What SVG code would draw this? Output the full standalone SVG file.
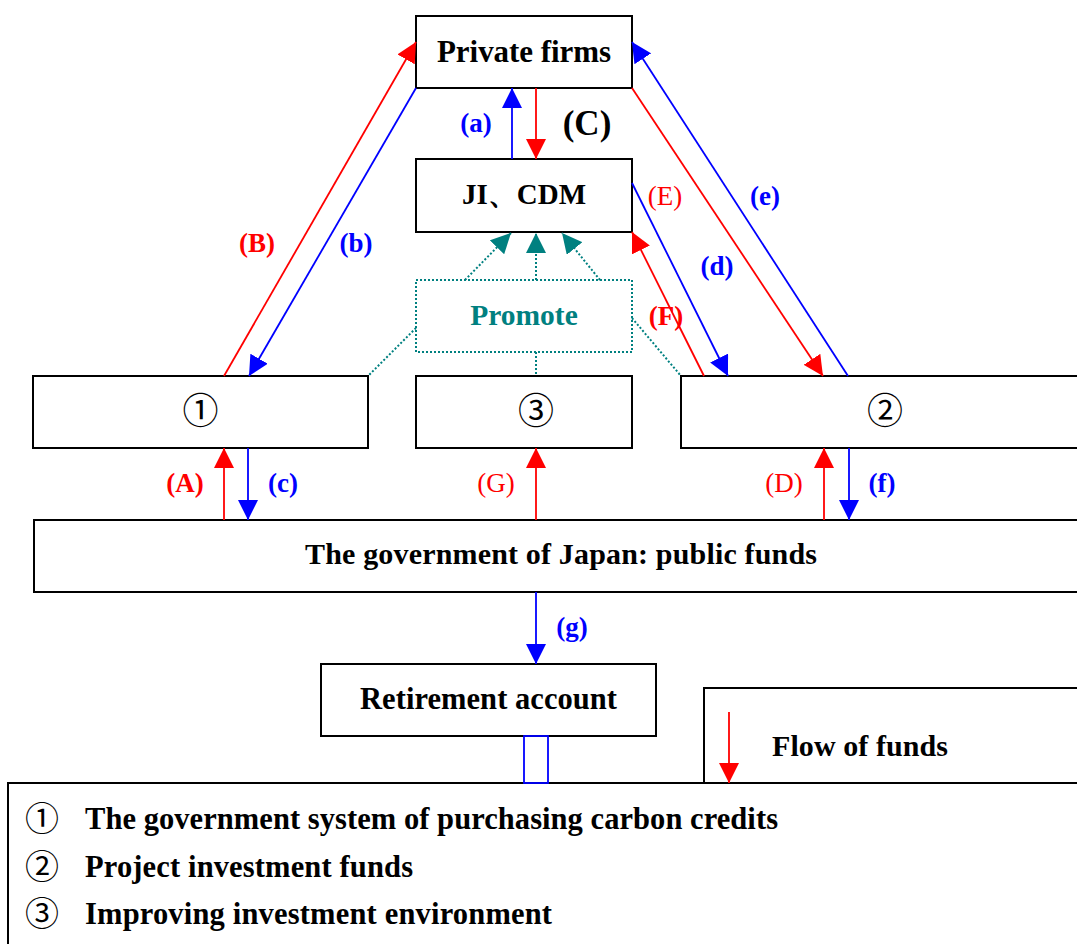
<svg xmlns="http://www.w3.org/2000/svg" width="1077" height="944" viewBox="0 0 1077 944">
<defs>
<style>
.box{fill:#fff;stroke:#000;stroke-width:2}
.t{font-family:"Liberation Serif","Times New Roman",serif;font-weight:bold;fill:#000}
.cd{font-family:"Noto Sans CJK JP","DejaVu Sans",sans-serif;fill:#000;font-weight:normal}
.lb{font-family:"Liberation Serif","Times New Roman",serif;font-size:27px;font-weight:bold}
.ln{font-family:"Liberation Serif","Times New Roman",serif;font-size:27px;font-weight:normal}
.red{stroke:#f00;stroke-width:1.8;fill:none}
.blue{stroke:#00f;stroke-width:1.8;fill:none}
.teal{stroke:#008080;stroke-width:2;stroke-dasharray:2 2;fill:none}
</style>
<marker id="ar" markerUnits="userSpaceOnUse" markerWidth="20" markerHeight="20" refX="20" refY="10" orient="auto" viewBox="0 0 20 20"><path d="M0,0 L20,10 L0,20 z" fill="#f00"/></marker>
<marker id="ab" markerUnits="userSpaceOnUse" markerWidth="20" markerHeight="20" refX="20" refY="10" orient="auto" viewBox="0 0 20 20"><path d="M0,0 L20,10 L0,20 z" fill="#00f"/></marker>
<marker id="at" markerUnits="userSpaceOnUse" markerWidth="20" markerHeight="20" refX="20" refY="10" orient="auto" viewBox="0 0 20 20"><path d="M0,0 L20,10 L0,20 z" fill="#008080"/></marker>
</defs>
<rect width="1077" height="944" fill="#fff"/>

<g id="private-firms">
<rect class="box" x="416" y="16" width="216" height="72"/>
<text class="t" x="524" y="62" font-size="31" text-anchor="middle" textLength="174">Private firms</text>
</g>
<g id="ji-cdm">
<rect class="box" x="416" y="159" width="216" height="73"/>
<text class="t" x="524" y="204" font-size="29" text-anchor="middle" font-family="'Liberation Serif','Noto Sans CJK JP',serif">JI、CDM</text>
</g>
<g id="promote">
<rect x="416" y="280" width="216" height="72" fill="none" stroke="#008080" stroke-width="2" stroke-dasharray="2 2"/>
<text class="t" x="524" y="325" font-size="29.5" text-anchor="middle" style="fill:#008080">Promote</text>
</g>
<g id="node1">
<rect class="box" x="33" y="376" width="335" height="72"/>
<text class="cd" x="200.5" y="424" font-size="36" text-anchor="middle">①</text>
</g>
<g id="node3">
<rect class="box" x="416" y="376" width="216" height="72"/>
<text class="cd" x="536" y="424" font-size="36" text-anchor="middle">③</text>
</g>
<g id="node2">
<rect class="box" x="681" y="376" width="410" height="72"/>
<text class="cd" x="885" y="424" font-size="36" text-anchor="middle">②</text>
</g>
<g id="government">
<rect class="box" x="34" y="520" width="1060" height="72"/>
<text class="t" x="561" y="564" font-size="30" text-anchor="middle" textLength="512">The government of Japan: public funds</text>
</g>
<g id="retirement">
<rect class="box" x="321" y="664" width="335" height="72"/>
<text class="t" x="488.5" y="709" font-size="30.5" text-anchor="middle" textLength="257">Retirement account</text>
</g>
<g id="flow-legend">
<rect class="box" x="704" y="688" width="390" height="95"/>
<text class="t" x="772" y="756" font-size="30" textLength="176">Flow of funds</text>
</g>
<g id="legend">
<rect class="box" x="8" y="783" width="1090" height="180"/>
<text class="cd" x="42" y="831" font-size="34" text-anchor="middle" font-weight="bold">①</text>
<text class="t" x="85" y="829" font-size="30.5" textLength="693">The government system of purchasing carbon credits</text>
<text class="cd" x="42" y="879" font-size="34" text-anchor="middle" font-weight="bold">②</text>
<text class="t" x="85" y="877" font-size="30.5" textLength="328">Project investment funds</text>
<text class="cd" x="42" y="926" font-size="34" text-anchor="middle" font-weight="bold">③</text>
<text class="t" x="85" y="924" font-size="30.5" textLength="467">Improving investment environment</text>
</g>

<g id="connectors">
<line class="blue" x1="512" y1="159" x2="512" y2="88" marker-end="url(#ab)"/>
<line class="red" x1="536" y1="88" x2="536" y2="159" marker-end="url(#ar)"/>
<line class="red" x1="224" y1="376" x2="416" y2="42" marker-end="url(#ar)"/>
<line class="blue" x1="416" y1="88" x2="249" y2="376" marker-end="url(#ab)"/>
<line class="blue" x1="848" y1="376" x2="632" y2="42" marker-end="url(#ab)"/>
<line class="red" x1="632" y1="88" x2="823" y2="376" marker-end="url(#ar)"/>
<line class="blue" x1="632" y1="183" x2="728" y2="376" marker-end="url(#ab)"/>
<line class="red" x1="704" y1="376" x2="632" y2="232" marker-end="url(#ar)"/>
<line class="red" x1="224" y1="520" x2="224" y2="448" marker-end="url(#ar)"/>
<line class="blue" x1="248" y1="448" x2="248" y2="520" marker-end="url(#ab)"/>
<line class="red" x1="536" y1="520" x2="536" y2="448" marker-end="url(#ar)"/>
<line class="red" x1="824" y1="520" x2="824" y2="448" marker-end="url(#ar)"/>
<line class="blue" x1="849" y1="448" x2="849" y2="520" marker-end="url(#ab)"/>
<line class="blue" x1="536" y1="592" x2="536" y2="664" marker-end="url(#ab)"/>
<line class="red" x1="729" y1="712" x2="729" y2="783" marker-end="url(#ar)"/>
<rect x="524" y="736" width="24" height="47" fill="none" stroke="#00f" stroke-width="1.8"/>
<line class="teal" x1="536" y1="280" x2="536" y2="233" marker-end="url(#at)"/>
<line class="teal" x1="465" y1="280" x2="511" y2="233" marker-end="url(#at)"/>
<line class="teal" x1="600" y1="280" x2="562" y2="233" marker-end="url(#at)"/>
<line class="teal" x1="416" y1="328" x2="368" y2="376"/>
<line class="teal" x1="632" y1="318" x2="681" y2="376"/>
<line class="teal" x1="536" y1="352" x2="536" y2="376"/>
</g>

<g id="labels">
<text class="lb" x="476" y="132" fill="#00f" text-anchor="middle">(a)</text>
<text class="t" x="587" y="135" font-size="35" text-anchor="middle">(C)</text>
<text class="lb" x="257" y="252" fill="#f00" text-anchor="middle">(B)</text>
<text class="lb" x="356" y="252" fill="#00f" text-anchor="middle">(b)</text>
<text class="ln" x="665" y="205" fill="#f00" text-anchor="middle">(E)</text>
<text class="lb" x="765" y="205" fill="#00f" text-anchor="middle">(e)</text>
<text class="lb" x="717" y="275" fill="#00f" text-anchor="middle">(d)</text>
<text class="lb" x="666" y="325" fill="#f00" text-anchor="middle">(F)</text>
<text class="lb" x="185" y="492" fill="#f00" text-anchor="middle">(A)</text>
<text class="lb" x="283" y="492" fill="#00f" text-anchor="middle">(c)</text>
<text class="ln" x="496" y="492" fill="#f00" text-anchor="middle">(G)</text>
<text class="ln" x="784" y="492" fill="#f00" text-anchor="middle">(D)</text>
<text class="lb" x="882" y="492" fill="#00f" text-anchor="middle">(f)</text>
<text class="lb" x="572" y="636" fill="#00f" text-anchor="middle">(g)</text>
</g>
</svg>
